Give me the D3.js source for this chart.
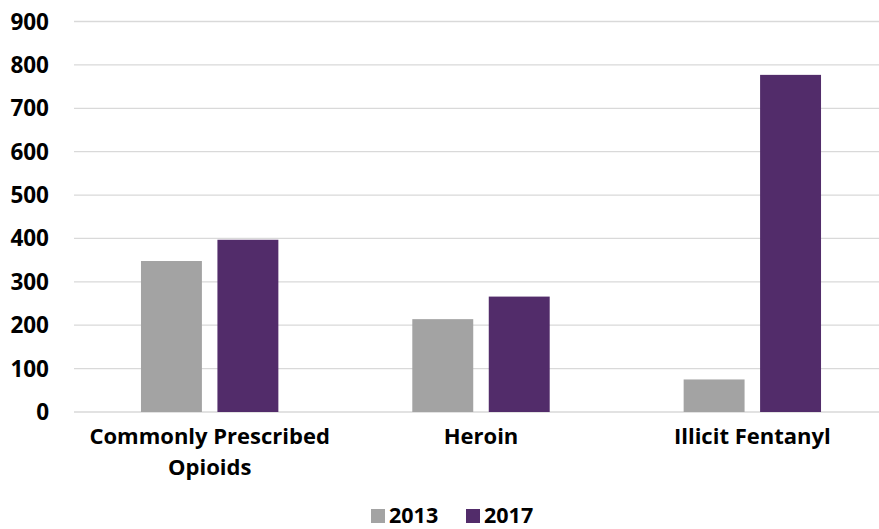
<!DOCTYPE html>
<html>
<head>
<meta charset="utf-8">
<script src="https://cdn.jsdelivr.net/npm/d3@7"></script>
<style>
  body { margin: 0; background: #fff; }
  text { font-family: "Open Sans", "Noto Sans", sans-serif; font-weight: bold; fill: #000; }
</style>
</head>
<body>
<div id="chart"></div>
<script>
const categories = ["Commonly Prescribed|Opioids", "Heroin", "Illicit Fentanyl"];
const years = ["2013", "2017"];
const values2013 = [348, 214, 75];
const values2017 = [397, 266, 777];
const yTicks = [0, 100, 200, 300, 400, 500, 600, 700, 800, 900];
const colors = {"2013": "#a3a3a3", "2017": "#522c6a"};

const W = 879, H = 529;
const svg = d3.select("#chart").append("svg")
  .attr("width", W)
  .attr("height", H);

// plot area runs past the right edge, like the original
const x0 = d3.scaleBand()
  .domain(categories)
  .range([74, 888]);

const x1 = d3.scaleBand()
  .domain(years)
  .range([0, x0.bandwidth()])
  .paddingInner(0.203)
  .paddingOuter(0.876);

const y = d3.scaleLinear()
  .domain([0, 900])
  .range([412, 21.5]);

// gridlines
svg.append("g")
  .selectAll("line")
  .data(yTicks)
  .enter()
  .append("line")
  .attr("x1", 74)
  .attr("x2", W)
  .attr("y1", d => y(d))
  .attr("y2", d => y(d))
  .attr("stroke", "#d9d9d9")
  .attr("stroke-width", 1.3);

// y labels
svg.append("g")
  .selectAll("text")
  .data(yTicks)
  .enter()
  .append("text")
  .attr("x", 49)
  .attr("y", d => y(d) + 8)
  .attr("text-anchor", "end")
  .attr("font-size", "22.5px")
  .text(d => d);

const rows = categories.map((c, i) => ({cat: c, vals: {"2013": values2013[i], "2017": values2017[i]}}));

// bars
const groups = svg.selectAll(".grp")
  .data(rows)
  .enter()
  .append("g")
  .attr("class", "grp")
  .attr("transform", d => `translate(${x0(d.cat)},0)`);

groups.selectAll("rect")
  .data(d => years.map(yr => ({yr: yr, v: d.vals[yr]})))
  .enter()
  .append("rect")
  .attr("x", d => x1(d.yr))
  .attr("y", d => y(d.v))
  .attr("width", x1.bandwidth())
  .attr("height", d => y(0) - y(d.v))
  .attr("fill", d => colors[d.yr]);

// category labels
const catLabels = svg.append("g")
  .selectAll("text")
  .data(categories)
  .enter()
  .append("text")
  .attr("x", d => x0(d) + x0.bandwidth() / 2)
  .attr("y", 444)
  .attr("text-anchor", "middle")
  .attr("font-size", "22px");

catLabels.each(function (d) {
  const lines = d.split("|");
  const t = d3.select(this);
  lines.forEach((ln, i) => {
    t.append("tspan")
      .attr("x", t.attr("x"))
      .attr("dy", i === 0 ? 0 : 31)
      .text(ln);
  });
});

// legend
const legendX = [371, 466];
const legend = svg.append("g");
years.forEach((yr, i) => {
  legend.append("rect")
    .attr("x", legendX[i])
    .attr("y", 509)
    .attr("width", 14)
    .attr("height", 14)
    .attr("fill", colors[yr]);
  legend.append("text")
    .attr("x", legendX[i] + 18)
    .attr("y", 523)
    .attr("font-size", "21.5px")
    .text(yr);
});
</script>
</body>
</html>
